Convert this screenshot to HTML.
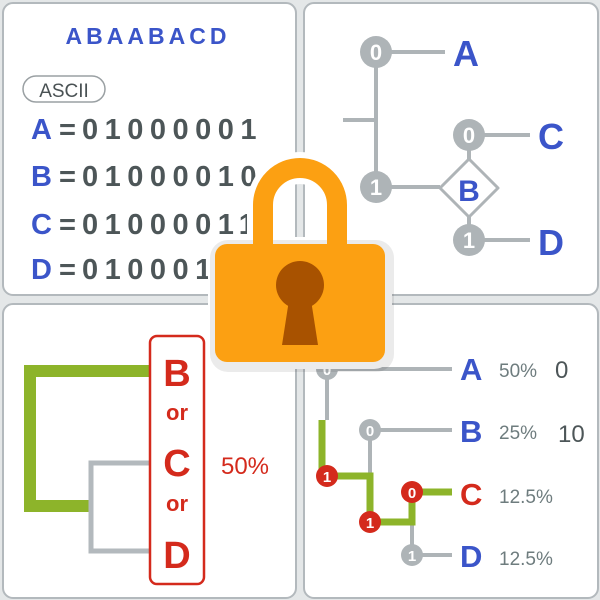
<!DOCTYPE html>
<html><head><meta charset="utf-8"><style>
html,body{margin:0;padding:0;background:#e4e7e8;}
svg{display:block;font-family:"Liberation Sans",sans-serif;}
</style></head><body>
<svg width="600" height="600" viewBox="0 0 600 600" xmlns="http://www.w3.org/2000/svg">
<rect width="600" height="600" fill="#e4e7e8"/>
<g fill="#fff" stroke="#b3b9bd" stroke-width="2">
<rect x="3" y="3" width="293" height="292" rx="10"/>
<rect x="304" y="3" width="294" height="292" rx="10"/>
<rect x="3" y="304" width="293" height="294" rx="10"/>
<rect x="304" y="304" width="294" height="294" rx="10"/>
</g>
<!-- TL -->
<text x="148" y="44" text-anchor="middle" font-size="23" font-weight="bold" fill="#3b55c9" letter-spacing="4">ABAABACD</text>
<rect x="23" y="76" width="82" height="26" rx="13" fill="#fff" stroke="#9aa0a3" stroke-width="1.5"/>
<text x="64" y="97" text-anchor="middle" font-size="19" fill="#4a5254">ASCII</text>
<g font-size="29" fill="#4d5658" font-weight="bold">
<text x="31" y="139"><tspan fill="#3b55c9">A</tspan><tspan x="59">=</tspan><tspan x="82" letter-spacing="6.5">01000001</tspan></text>
<text x="31" y="186"><tspan fill="#3b55c9">B</tspan><tspan x="59">=</tspan><tspan x="82" letter-spacing="6.5">01000010</tspan></text>
<text x="31" y="234"><tspan fill="#3b55c9">C</tspan><tspan x="59">=</tspan><tspan x="82" letter-spacing="6.5">01000011</tspan></text>
<text x="31" y="279"><tspan fill="#3b55c9">D</tspan><tspan x="59">=</tspan><tspan x="82" letter-spacing="6.5">01000100</tspan></text>
</g>
<!-- TR -->
<g stroke="#aeb4b7" stroke-width="4" fill="none">
<line x1="376" y1="52" x2="376" y2="187"/>
<line x1="343" y1="120" x2="376" y2="120"/>
<line x1="376" y1="52" x2="445" y2="52"/>
<line x1="376" y1="187" x2="440" y2="187"/>
<line x1="469" y1="135" x2="530" y2="135"/>
<line x1="469" y1="240" x2="530" y2="240"/>
<line x1="469" y1="135" x2="469" y2="240"/>
</g>
<path d="M469 159 L498 188 L469 217 L440 188 Z" fill="#fff" stroke="#aeb4b7" stroke-width="3" stroke-linejoin="round"/>
<g fill="#aeb4b7"><circle cx="376" cy="52" r="16"/><circle cx="376" cy="187" r="16"/><circle cx="469" cy="135" r="16"/><circle cx="469" cy="240" r="16"/></g>
<g fill="#fff" font-size="22" font-weight="bold" text-anchor="middle"><text x="376" y="60">0</text><text x="376" y="195">1</text><text x="469" y="143">0</text><text x="469" y="248">1</text></g>
<g fill="#3b55c9" font-size="36" font-weight="bold"><text x="453" y="66">A</text><text x="538" y="149">C</text><text x="538" y="255">D</text><text x="469" y="201" text-anchor="middle" font-size="30">B</text></g>
<!-- BL -->
<path d="M150 371 H30 V506 H93" fill="none" stroke="#8db42a" stroke-width="12"/>
<path d="M150 463 H91 V551 H150" fill="none" stroke="#b3b9bd" stroke-width="5"/>
<rect x="150" y="336" width="54" height="248" rx="7" fill="#fff" stroke="#d42a1c" stroke-width="2.5"/>
<g fill="#d42a1c" font-weight="bold" text-anchor="middle">
<text x="177" y="386" font-size="38">B</text><text x="177" y="420" font-size="22">or</text>
<text x="177" y="476" font-size="38">C</text><text x="177" y="511" font-size="22">or</text>
<text x="177" y="568" font-size="38">D</text>
<text x="245" y="474" font-size="24" font-weight="normal">50%</text></g>
<!-- BR -->
<g stroke="#aeb4b7" stroke-width="4" fill="none">
<line x1="327" y1="369" x2="452" y2="369"/>
<line x1="327" y1="369" x2="327" y2="420"/>
<line x1="370" y1="430" x2="452" y2="430"/>
<line x1="370" y1="430" x2="370" y2="476"/>
<line x1="412" y1="520" x2="412" y2="555"/>
<line x1="412" y1="555" x2="452" y2="555"/>
</g>
<path d="M322 420 V476 H370 V522 H412 V492 H452" fill="none" stroke="#8db42a" stroke-width="7"/>
<g fill="#aeb4b7"><circle cx="327" cy="369" r="11"/><circle cx="370" cy="430" r="11"/><circle cx="412" cy="555" r="11"/></g>
<g fill="#d42a1c"><circle cx="327" cy="476" r="11"/><circle cx="370" cy="522" r="11"/><circle cx="412" cy="492" r="11"/></g>
<g fill="#fff" font-size="15" font-weight="bold" text-anchor="middle"><text x="327" y="375">0</text><text x="370" y="436">0</text><text x="412" y="561">1</text><text x="327" y="482">1</text><text x="370" y="528">1</text><text x="412" y="498">0</text></g>
<g font-size="31" font-weight="bold"><text x="460" y="380" fill="#3b55c9">A</text><text x="460" y="442" fill="#3b55c9">B</text><text x="460" y="505" fill="#d42a1c">C</text><text x="460" y="567" fill="#3b55c9">D</text></g>
<g fill="#6e7c7e" font-size="19"><text x="499" y="377">50%</text><text x="499" y="439">25%</text><text x="499" y="503">12.5%</text><text x="499" y="565">12.5%</text></g>
<g fill="#4d5658" font-size="24"><text x="555" y="378">0</text><text x="558" y="442">10</text></g>
<!-- lock -->
<path d="M263 246 V205 A37 37 0 0 1 337 205 V246" fill="none" stroke="#fff" stroke-width="32"/>
<rect x="208" y="237" width="184" height="132" rx="18" fill="#fff"/>
<rect x="210" y="240" width="184" height="132" rx="18" fill="#000" opacity="0.08"/>
<path d="M263 246 V205 A37 37 0 0 1 337 205 V246" fill="none" stroke="#fca012" stroke-width="20"/>
<rect x="215" y="244" width="170" height="118" rx="12" fill="#fca012"/>
<circle cx="300" cy="285" r="24" fill="#a85200"/>
<path d="M289 300 H311 L318 345 H282 Z" fill="#a85200"/>
</svg>
</body></html>
